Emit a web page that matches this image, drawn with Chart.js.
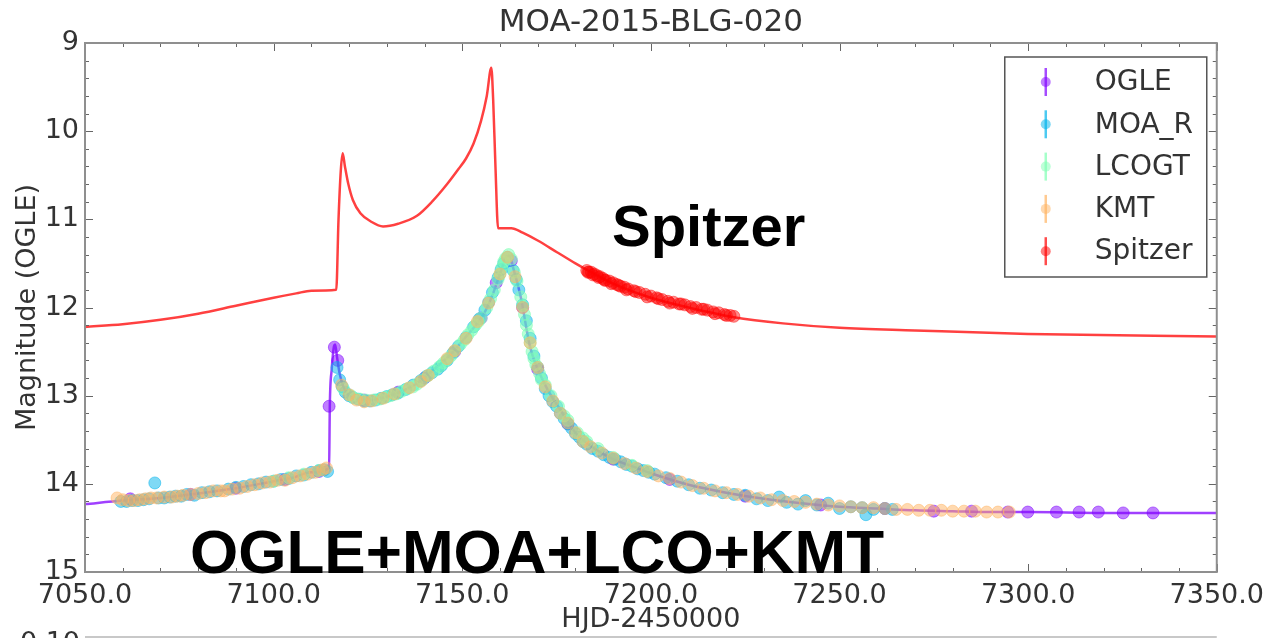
<!DOCTYPE html>
<html>
<head>
<meta charset="utf-8">
<script src="https://cdn.jsdelivr.net/npm/chart.js@4.4.0/dist/chart.umd.min.js"></script>
<style>
  html, body { margin: 0; padding: 0; background: #fff; }
  #wrap { width: 1272px; height: 638px; position: relative; }
</style>
</head>
<body>
<div id="wrap"><canvas id="lc"></canvas></div>
<script>
// ---- data (HJD-2450000, magnitude) ----
const ogleT = [7062, 7078, 7090, 7103, 7112, 7114.7, 7116.1, 7117, 7124, 7133, 7140, 7148, 7155, 7159, 7163, 7166, 7170, 7178, 7190, 7205, 7225, 7245, 7262, 7275, 7285, 7294.6, 7299.9, 7307.5, 7313.5, 7318.6, 7325.2, 7333.1];
const ogleMag = [14.17, 14.12, 14.05, 13.95, 13.86, 13.12, 12.45, 12.6, 13.05, 12.96, 12.8, 12.5, 12.12, 11.72, 11.47, 12.0, 12.7, 13.32, 13.72, 13.95, 14.14, 14.24, 14.28, 14.31, 14.31, 14.32, 14.32, 14.32, 14.32, 14.32, 14.33, 14.33];

const moaT = [7059.5, 7061, 7062.5, 7064, 7065.5, 7067, 7068.5, 7069.5, 7071, 7072.5, 7074, 7075.5, 7077, 7079, 7081, 7083, 7085, 7088, 7090, 7092, 7094, 7096, 7098, 7100, 7102, 7104, 7106, 7108, 7110, 7112, 7113.5, 7114.3,
  7116.8, 7117.5, 7118.2, 7119, 7120, 7121, 7122.5, 7124, 7125.5, 7127, 7128.5, 7130, 7131.5, 7133, 7135, 7137, 7139, 7140.5, 7142, 7143.5, 7144.5, 7146, 7147.5, 7149, 7151, 7153, 7154.5, 7156, 7157, 7158,
  7159.5, 7160.3, 7161, 7162, 7163.5, 7164.3, 7165, 7166, 7167, 7168, 7169, 7170, 7171, 7172, 7173, 7174, 7175, 7176, 7177, 7178, 7179, 7180, 7181, 7182, 7183, 7184.5, 7186, 7187.5, 7189, 7190.5, 7192, 7193.5, 7195, 7196.5, 7198, 7199.5,
  7201, 7204, 7207, 7210, 7213, 7216, 7219, 7222, 7225, 7228, 7231, 7234, 7236, 7239, 7241, 7244, 7247, 7250, 7253, 7256, 7257, 7259, 7262, 7264];
const moaMag = [14.20, 14.20, 14.19, 14.19, 14.18, 14.17, 13.99, 14.16, 14.16, 14.15, 14.14, 14.14, 14.12, 14.13, 14.10, 14.09, 14.08, 14.06, 14.04, 14.03, 14.01, 14.00, 13.98, 13.97, 13.95, 13.94, 13.91, 13.90, 13.87, 13.85, 13.84, 13.86,
  12.68, 12.82, 12.90, 12.96, 13.00, 13.02, 13.04, 13.06, 13.06, 13.05, 13.03, 13.01, 12.99, 12.97, 12.93, 12.88, 12.83, 12.78, 12.74, 12.70, 12.66, 12.60, 12.52, 12.44, 12.34, 12.22, 12.13, 12.03, 11.94, 11.83,
  11.66, 11.57, 11.50, 11.43, 11.58, 11.68, 11.80, 11.97, 12.15, 12.35, 12.55, 12.68, 12.80, 12.92, 13.00, 13.07, 13.12, 13.20, 13.26, 13.32, 13.37, 13.43, 13.47, 13.52, 13.55, 13.60, 13.63, 13.67, 13.70, 13.72, 13.75, 13.78, 13.80, 13.83, 13.85, 13.87,
  13.89, 13.93, 13.97, 14.01, 14.05, 14.07, 14.10, 14.12, 14.13, 14.17, 14.19, 14.15, 14.21, 14.23, 14.19, 14.24, 14.22, 14.28, 14.26, 14.27, 14.35, 14.29, 14.28, 14.29];

const lcoT = [7100, 7104, 7108, 7112, 7118.5, 7120.5, 7121.5, 7123, 7124.5, 7126.5, 7128, 7129.5, 7131, 7132.5, 7134, 7135.5, 7137, 7138, 7139.5, 7141, 7142.5, 7144, 7145, 7146, 7147, 7148, 7149.5, 7150.5, 7151.5, 7152.5,
  7153.5, 7154.3, 7155, 7156.5, 7157.5, 7158.5, 7159.5, 7160, 7160.5, 7161, 7161.5, 7162.3, 7163, 7163.8, 7164.5, 7165.5, 7166, 7166.5, 7167, 7167.5, 7168, 7168.5, 7169, 7169.5, 7170.5, 7171, 7172, 7173.5, 7175.5, 7177,
  7178, 7180.5, 7182, 7183, 7186, 7190, 7195, 7199];
const lcoMag = [13.97, 13.93, 13.89, 13.85, 12.92, 13.00, 13.03, 13.04, 13.05, 13.05, 13.04, 13.02, 13.00, 12.98, 12.95, 12.92, 12.90, 12.87, 12.82, 12.77, 12.72, 12.67, 12.63, 12.59, 12.55, 12.49, 12.42, 12.37, 12.31, 12.26,
  12.20, 12.16, 12.12, 12.00, 11.90, 11.80, 11.68, 11.62, 11.55, 11.48, 11.44, 11.40, 11.45, 11.60, 11.70, 11.88, 11.98, 12.08, 12.20, 12.30, 12.40, 12.50, 12.58, 12.65, 12.75, 12.82, 12.88, 13.00, 13.12, 13.23,
  13.28, 13.42, 13.48, 13.52, 13.60, 13.70, 13.79, 13.85];

const kmtT = [7058.5, 7060, 7061.5, 7063, 7064.5, 7066, 7067.5, 7069, 7071, 7073, 7074.5, 7076, 7078, 7080, 7082, 7084, 7086, 7087, 7089, 7091, 7093, 7095, 7097, 7099, 7101, 7103, 7105, 7107, 7109, 7111, 7113, 7114,
  7118, 7120, 7122, 7124, 7126, 7129, 7132, 7136, 7139, 7141, 7146, 7148, 7151, 7154, 7157, 7160, 7162, 7164, 7166, 7168, 7170, 7172, 7174, 7176, 7178, 7180, 7182, 7184, 7187, 7190, 7193, 7196, 7199,
  7202, 7205, 7208, 7211, 7214, 7217, 7220, 7223, 7226, 7229, 7232, 7235, 7238, 7241, 7244, 7247, 7250, 7253, 7256, 7259, 7262, 7265, 7268, 7271, 7274, 7277, 7280, 7283, 7286, 7289, 7292, 7295];
const kmtMag = [14.16, 14.18, 14.19, 14.19, 14.18, 14.17, 14.16, 14.16, 14.15, 14.15, 14.14, 14.13, 14.12, 14.11, 14.10, 14.08, 14.08, 14.08, 14.06, 14.05, 14.03, 14.01, 13.99, 13.98, 13.96, 13.96, 13.93, 13.91, 13.89, 13.87, 13.84, 13.82,
  12.88, 12.99, 13.05, 13.07, 13.06, 13.03, 12.98, 12.91, 12.84, 12.77, 12.58, 12.49, 12.35, 12.16, 11.95, 11.62, 11.43, 11.65, 12.00, 12.40, 12.68, 12.90, 13.06, 13.20, 13.31, 13.42, 13.52, 13.58, 13.65, 13.71, 13.77, 13.82, 13.86,
  13.91, 13.94, 13.98, 14.02, 14.05, 14.08, 14.10, 14.12, 14.14, 14.16, 14.18, 14.19, 14.20, 14.21, 14.23, 14.24, 14.25, 14.26, 14.27, 14.27, 14.28, 14.29, 14.29, 14.30, 14.30, 14.30, 14.31, 14.31, 14.31, 14.32, 14.32, 14.32];

const spzT = [7183, 7183.3, 7183.6, 7184.2, 7184.6, 7185, 7185.8, 7186.1, 7186.5, 7187.3, 7187.7, 7188, 7189, 7189.5, 7190, 7191, 7191.5, 7192, 7193, 7193.5, 7194, 7195.5, 7196, 7197, 7198.5,
  7199, 7200, 7201.5, 7202, 7203, 7204.5, 7205, 7206, 7207.5, 7208, 7209, 7210.5, 7211, 7212, 7213.5, 7214, 7215, 7216.5, 7217, 7218, 7219.5, 7220, 7221, 7222];
const spzMag = [11.58, 11.60, 11.60, 11.60, 11.63, 11.62, 11.64, 11.66, 11.65, 11.67, 11.69, 11.69, 11.70, 11.73, 11.72, 11.74, 11.75, 11.76, 11.77, 11.80, 11.79, 11.81, 11.82, 11.83, 11.85,
  11.88, 11.87, 11.89, 11.90, 11.91, 11.93, 11.95, 11.94, 11.96, 11.96, 11.97, 11.99, 12.01, 12.00, 12.02, 12.02, 12.03, 12.05, 12.07, 12.06, 12.08, 12.09, 12.09, 12.10];

// model curves
const groundModelT = [7050, 7060, 7070, 7080, 7090, 7100, 7105, 7110, 7114.7, 7114.9, 7115.4, 7116.0, 7116.3, 7116.8, 7117.5, 7118.5, 7120, 7123, 7126, 7130, 7134, 7138, 7142, 7147, 7151, 7154, 7156, 7158, 7160, 7161.5, 7162.5, 7163.5, 7165.5, 7168, 7172, 7176, 7180, 7185, 7190, 7195, 7200, 7210, 7220, 7230, 7240, 7250, 7260, 7270, 7280, 7290, 7300, 7320, 7350];
const groundModelMag = [14.23, 14.19, 14.16, 14.11, 14.05, 13.97, 13.93, 13.87, 13.82, 13.1, 12.7, 12.44, 12.42, 12.56, 12.75, 12.9, 13.0, 13.04, 13.05, 13.01, 12.95, 12.86, 12.72, 12.53, 12.33, 12.18, 12.05, 11.86, 11.62, 11.44, 11.41, 11.55, 11.88, 12.45, 12.88, 13.16, 13.42, 13.6, 13.72, 13.8, 13.88, 14.01, 14.1, 14.17, 14.22, 14.26, 14.28, 14.3, 14.31, 14.32, 14.32, 14.33, 14.33];

const spzModelT = [7050, 7060, 7070, 7080, 7090, 7100, 7106, 7110, 7116.6, 7117.2, 7117.8, 7118.3, 7118.9, 7119.8, 7121, 7123, 7126, 7129, 7133, 7138, 7142, 7146, 7149, 7151, 7153, 7155, 7156.5, 7157.7, 7158.2, 7158.8, 7159.5, 7163, 7166, 7170, 7175, 7180, 7185, 7190, 7200, 7210, 7222, 7235, 7250, 7270, 7300, 7350];
const spzModelMag = [12.22, 12.19, 12.14, 12.07, 11.98, 11.89, 11.84, 11.81, 11.8, 11.0, 10.45, 10.25, 10.4, 10.6, 10.78, 10.93, 11.03, 11.08, 11.05, 10.96, 10.8, 10.6, 10.43, 10.31, 10.14, 9.88, 9.6, 9.28, 9.65, 10.4, 11.1, 11.1, 11.15, 11.24, 11.37, 11.5, 11.62, 11.73, 11.89, 12.0, 12.11, 12.18, 12.23, 12.26, 12.3, 12.33];

const legendNames = ['OGLE', 'MOA_R', 'LCOGT', 'KMT', 'Spitzer'];

// rainbow colours as in the figure
const rgbOgle = '128,0,255';
const rgbMoa = '0,180,235';
const rgbLco = '128,255,180';
const rgbKmt = '255,180,98';
const rgbSpz = '255,0,0';
const legendRgb = [rgbOgle, rgbMoa, rgbLco, rgbKmt, rgbSpz];

const textColor = '#333';
const fontFam = '"DejaVu Sans", sans-serif';

function pts(xs, ys) {
    return xs.map((x, i) => ({ x: x, y: ys[i] }));
}

function dataSet(label, xs, ys, rgb, alpha) {
    return {
        label: label,
        data: pts(xs, ys),
        showLine: false,
        pointRadius: 6,
        pointHoverRadius: 6,
        backgroundColor: 'rgba(' + rgb + ',' + alpha + ')',
        borderColor: 'rgba(' + rgb + ',' + alpha + ')',
        borderWidth: 1
    };
}

function modelSet(label, xs, ys, rgb) {
    return {
        label: label,
        data: pts(xs, ys),
        showLine: true,
        pointRadius: 0,
        borderWidth: 2.5,
        borderColor: 'rgba(' + rgb + ',0.75)',
        backgroundColor: 'rgba(' + rgb + ',0.75)',
        cubicInterpolationMode: 'monotone'
    };
}

// title, axes frame, inward ticks, legend box, big labels
const decor = {
    id: 'decor',
    afterDatasetsDraw(chart) {
        const ctx = chart.ctx;
        const a = chart.chartArea;
        const xs = chart.scales.x;
        const ys = chart.scales.y;
        ctx.save();

        // ticks (inward), major and minor
        ctx.strokeStyle = '#666';
        ctx.lineWidth = 1;
        ctx.beginPath();
        for (let v = 7050; v <= 7350; v += 10) {
            const px = Math.round(xs.getPixelForValue(v)) + 0.5;
            const len = (v % 50 === 0) ? 8 : 4;
            ctx.moveTo(px, a.bottom); ctx.lineTo(px, a.bottom - len);
            ctx.moveTo(px, a.top); ctx.lineTo(px, a.top + len);
        }
        for (let k = 0; k <= 30; k++) {
            const v = 9 + k * 0.2;
            const py = Math.round(ys.getPixelForValue(v)) + 0.5;
            const len = (k % 5 === 0) ? 8 : 4;
            ctx.moveTo(a.left, py); ctx.lineTo(a.left + len, py);
            ctx.moveTo(a.right, py); ctx.lineTo(a.right - len, py);
        }
        ctx.stroke();

        // frame
        ctx.strokeStyle = '#8f8f8f';
        ctx.lineWidth = 2;
        ctx.strokeRect(a.left, a.top, a.right - a.left, a.bottom - a.top);

        // title, centred over the axes
        ctx.fillStyle = textColor;
        ctx.font = '31px ' + fontFam;
        ctx.textAlign = 'center';
        ctx.textBaseline = 'middle';
        ctx.fillText('MOA-2015-BLG-020', (a.left + a.right) / 2, 23);

        // legend
        const bx = a.right - 212, by = a.top + 14, bw = 202, bh = 220;
        ctx.fillStyle = '#fff';
        ctx.fillRect(bx, by, bw, bh);
        ctx.strokeStyle = '#555';
        ctx.lineWidth = 1.5;
        ctx.strokeRect(bx, by, bw, bh);
        ctx.font = '28px ' + fontFam;
        ctx.textBaseline = 'middle';
        ctx.textAlign = 'left';
        legendNames.forEach((name, i) => {
            const cy = by + 25 + i * 42.3;
            const mx = bx + 41;
            ctx.strokeStyle = 'rgba(' + legendRgb[i] + ',0.7)';
            ctx.lineWidth = 2.5;
            ctx.beginPath();
            ctx.moveTo(mx, cy - 14); ctx.lineTo(mx, cy + 14);
            ctx.stroke();
            ctx.fillStyle = 'rgba(' + legendRgb[i] + ',0.5)';
            ctx.beginPath();
            ctx.arc(mx, cy, 5, 0, Math.PI * 2);
            ctx.fill();
            ctx.fillStyle = textColor;
            ctx.fillText(name, bx + 90, cy + 1);
        });

        // big annotations
        ctx.fillStyle = '#000';
        ctx.textBaseline = 'alphabetic';
        ctx.font = 'bold 58px "Liberation Sans", sans-serif';
        ctx.fillText('Spitzer', 612, 246);
        ctx.font = 'bold 62px "Liberation Sans", sans-serif';
        ctx.fillText('OGLE+MOA+LCO+KMT', 190, 573);

        // top of the next panel, cut off by the image edge
        ctx.strokeStyle = '#c8c8c8';
        ctx.lineWidth = 2;
        ctx.beginPath();
        ctx.moveTo(a.left, 637); ctx.lineTo(a.right, 637);
        ctx.stroke();
        ctx.fillStyle = textColor;
        ctx.font = '27px ' + fontFam;
        ctx.textAlign = 'right';
        ctx.textBaseline = 'middle';
        ctx.fillText('\u22120.10', 80, 644);

        ctx.restore();
    }
};

new Chart(document.getElementById('lc'), {
    type: 'scatter',
    data: {
        datasets: [
            dataSet('Spitzer', spzT, spzMag, rgbSpz, 0.45),
            dataSet('KMT', kmtT, kmtMag, rgbKmt, 0.5),
            dataSet('LCOGT', lcoT, lcoMag, rgbLco, 0.55),
            dataSet('MOA_R', moaT, moaMag, rgbMoa, 0.5),
            dataSet('OGLE', ogleT, ogleMag, rgbOgle, 0.5),
            modelSet('model ground', groundModelT, groundModelMag, rgbOgle),
            modelSet('model Spitzer', spzModelT, spzModelMag, rgbSpz)
        ]
    },
    options: {
        responsive: true,
        maintainAspectRatio: false,
        animation: false,
        layout: { padding: { left: 0, right: 50, top: 43, bottom: 0 } },
        plugins: {
            legend: { display: false },
            tooltip: { enabled: false },
            title: { display: false }
        },
        scales: {
            x: {
                type: 'linear',
                min: 7050,
                max: 7350,
                grid: { display: false, drawTicks: false },
                border: { display: false },
                ticks: {
                    stepSize: 50,
                    padding: 8,
                    color: textColor,
                    font: { family: fontFam, size: 27 },
                    maxRotation: 0,
                    callback: v => v.toFixed(1)
                },
                title: {
                    display: true,
                    text: 'HJD-2450000',
                    color: textColor,
                    font: { family: fontFam, size: 27 },
                    padding: { top: 0, bottom: 2 }
                },
                afterFit(s) { s.height = 66; }
            },
            y: {
                type: 'linear',
                reverse: true,
                min: 9,
                max: 15,
                grid: { display: false, drawTicks: false },
                border: { display: false },
                ticks: {
                    stepSize: 1,
                    padding: 6,
                    color: textColor,
                    font: { family: fontFam, size: 27 }
                },
                title: {
                    display: true,
                    text: 'Magnitude (OGLE)',
                    color: textColor,
                    font: { family: fontFam, size: 27 },
                    padding: { top: 12, bottom: 0 }
                },
                afterFit(s) { s.width = 85; }
            }
        }
    },
    plugins: [decor]
});
</script>
</body>
</html>
